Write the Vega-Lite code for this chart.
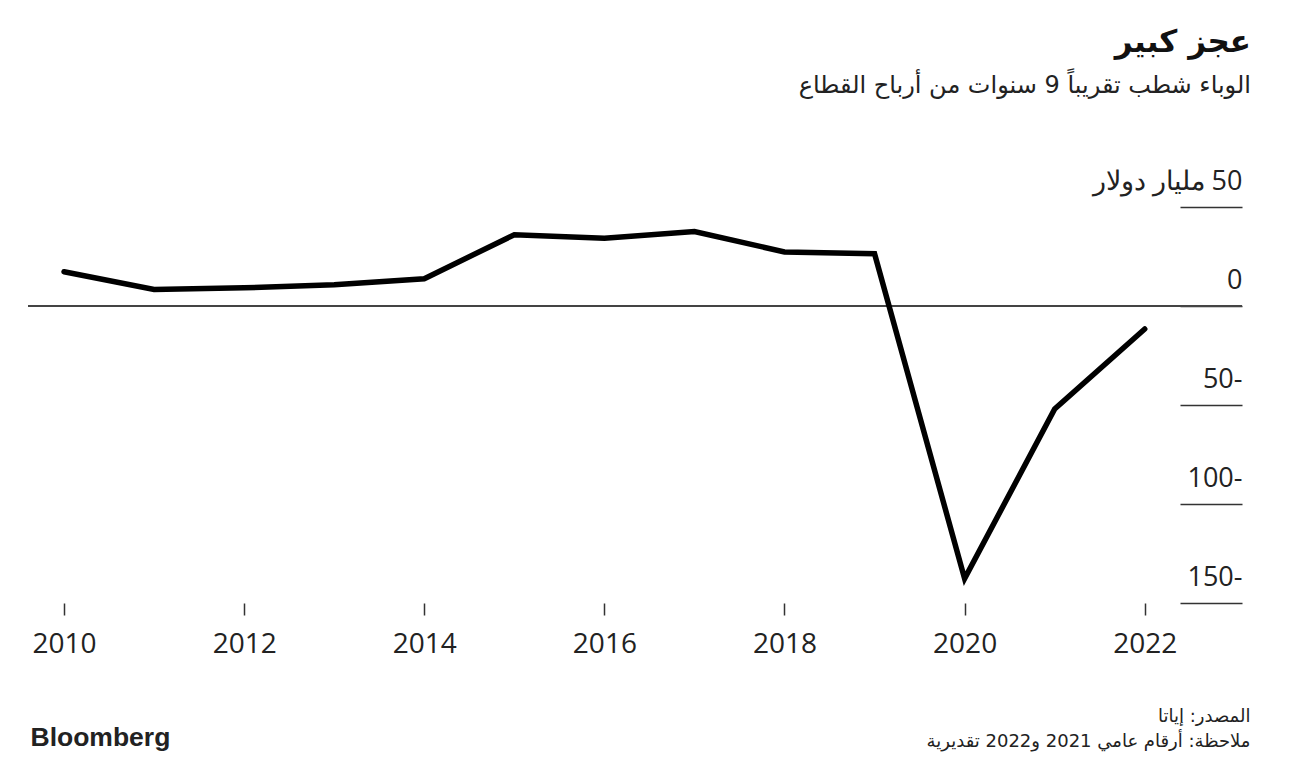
{
  "$schema": "https://vega.github.io/schema/vega-lite/v6.json",
  "width": 1214,
  "height": 396,
  "autosize": {"type": "none"},
  "padding": {"left": 28, "top": 207, "right": 55, "bottom": 163},
  "background": "white",
  "config": {"view": {"stroke": null}},
  "title": {
    "text": "عجز كبير",
    "subtitle": "الوباء شطب تقريباً 9 سنوات من أرباح القطاع",
    "anchor": "end",
    "orient": "top",
    "font": "DejaVu Sans",
    "fontSize": 31,
    "fontWeight": "bold",
    "color": "#111",
    "subtitleFont": "DejaVu Sans",
    "subtitleFontSize": 24,
    "subtitleColor": "#222",
    "subtitlePadding": 15,
    "offset": 68,
    "dx": 1
  },
  "data": {
    "values": [
      {"year": 2010, "profit": 17.3},
      {"year": 2011, "profit": 8.3},
      {"year": 2012, "profit": 9.2},
      {"year": 2013, "profit": 10.7},
      {"year": 2014, "profit": 13.8},
      {"year": 2015, "profit": 36.0},
      {"year": 2016, "profit": 34.2},
      {"year": 2017, "profit": 37.6},
      {"year": 2018, "profit": 27.3},
      {"year": 2019, "profit": 26.4},
      {"year": 2020, "profit": -137.7},
      {"year": 2021, "profit": -52.0},
      {"year": 2022, "profit": -11.6}
    ]
  },
  "layer": [
    {
      "mark": {"type": "rule", "color": "#444", "strokeWidth": 1.5},
      "encoding": {
        "y": {
          "datum": 0,
          "type": "quantitative",
          "scale": {"domain": [-150, 50], "nice": false, "zero": false},
          "axis": {
            "orient": "left",
            "labels": false,
            "ticks": false,
            "domain": false,
            "grid": false,
            "title": "Bloomberg",
            "titleAngle": 0,
            "titleAlign": "left",
            "titleBaseline": "alphabetic",
            "titleX": 2,
            "titleY": 538,
            "titleFont": "Liberation Sans",
            "titleFontSize": 26.5,
            "titleFontWeight": "bold",
            "titleColor": "#222"
          }
        }
      }
    },
    {
      "mark": {"type": "line", "color": "#000", "strokeWidth": 5.5, "strokeCap": "round", "strokeJoin": "miter"},
      "encoding": {
        "x": {
          "field": "year",
          "type": "quantitative",
          "scale": {"domain": [2009.6, 2023.08], "nice": false, "zero": false},
          "axis": {
            "values": [2010, 2012, 2014, 2016, 2018, 2020, 2022],
            "format": "d",
            "grid": false,
            "domain": false,
            "tickSize": 12,
            "tickWidth": 1.5,
            "tickColor": "#333",
            "labelFont": "Open Sans",
            "labelFontSize": 28,
            "labelColor": "#222",
            "labelPadding": 15,
            "title": ["المصدر: إياتا", "ملاحظة: أرقام عامي 2021 و2022 تقديرية"],
            "titleAnchor": "end",
            "titleAlign": "right",
            "titleBaseline": "alphabetic",
            "titleX": 1222,
            "titleY": 118,
            "titleFont": "DejaVu Sans",
            "titleFontSize": 18,
            "titleFontWeight": "normal",
            "titleColor": "#222",
            "titleLineHeight": 25
          }
        },
        "y": {
          "field": "profit",
          "type": "quantitative",
          "scale": {"domain": [-150, 50], "nice": false, "zero": false},
          "axis": {
            "orient": "right",
            "offset": -62,
            "values": [-150, -100, -50, 0, 50],
            "labelExpr": "datum.value < 0 ? format(-datum.value, 'd') + '-' : (datum.value == 50 ? 'مليار دولار\u200E   50' : datum.label)",
            "grid": false,
            "domain": false,
            "tickSize": 62,
            "tickWidth": 1.5,
            "tickColor": "#333",
            "labelAlign": "right",
            "labelBaseline": "alphabetic",
            "labelPadding": 0,
            "labelOffset": -18,
            "labelFont": "Open Sans",
            "labelFontSize": 27,
            "labelColor": "#222",
            "title": null
          }
        }
      }
    }
  ],
  "resolve": {"axis": {"y": "independent"}}
}
